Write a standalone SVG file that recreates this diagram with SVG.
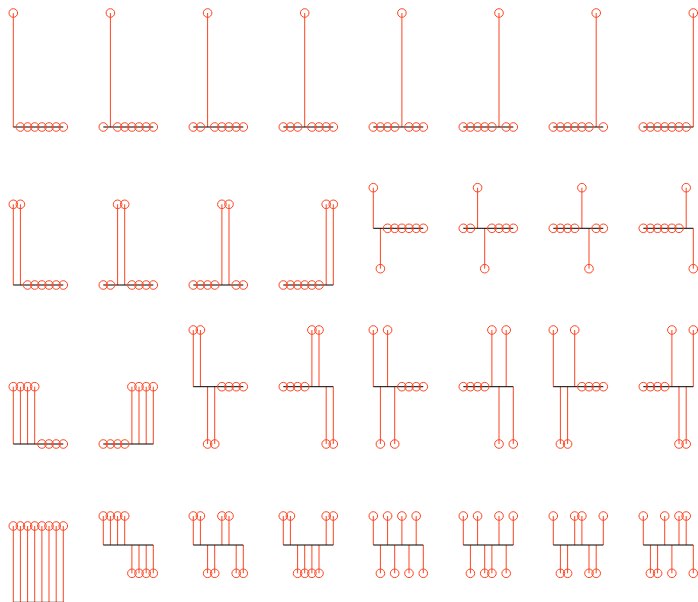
<svg xmlns="http://www.w3.org/2000/svg" xmlns:xlink="http://www.w3.org/1999/xlink" width="698" height="602" viewBox="0 0 698 602">
<style>
.e path{fill:none;stroke:#ff4422;stroke-width:1}
.e path.h{stroke:#000}
use{fill:none;stroke:#ff4422;stroke-width:1}
</style>
<defs><circle id="n" r="4.3"/></defs>
<rect width="698" height="602" fill="#fff"/>
<!-- Row 0 -->
<g id="p00"><g class="e"><path d="M13.3 13V127"/><path class="h" d="M13.3 127H63.3"/></g>
<use href="#n" x="13.3" y="13"/><use href="#n" x="20.4" y="127"/><use href="#n" x="27.6" y="127"/><use href="#n" x="34.7" y="127"/><use href="#n" x="41.9" y="127"/><use href="#n" x="49" y="127"/><use href="#n" x="56.2" y="127"/><use href="#n" x="63.3" y="127"/></g>
<g id="p01"><g class="e"><path d="M110.4 13V127"/><path class="h" d="M103.3 127H153.3"/></g>
<use href="#n" x="103.3" y="127"/><use href="#n" x="110.4" y="13"/><use href="#n" x="117.6" y="127"/><use href="#n" x="124.7" y="127"/><use href="#n" x="131.9" y="127"/><use href="#n" x="139" y="127"/><use href="#n" x="146.2" y="127"/><use href="#n" x="153.3" y="127"/></g>
<g id="p02"><g class="e"><path d="M207.6 13V127"/><path class="h" d="M193.3 127H243.3"/></g>
<use href="#n" x="193.3" y="127"/><use href="#n" x="200.4" y="127"/><use href="#n" x="207.6" y="13"/><use href="#n" x="214.7" y="127"/><use href="#n" x="221.9" y="127"/><use href="#n" x="229" y="127"/><use href="#n" x="236.2" y="127"/><use href="#n" x="243.3" y="127"/></g>
<g id="p03"><g class="e"><path d="M304.7 13V127"/><path class="h" d="M283.3 127H333.3"/></g>
<use href="#n" x="283.3" y="127"/><use href="#n" x="290.4" y="127"/><use href="#n" x="297.6" y="127"/><use href="#n" x="304.7" y="13"/><use href="#n" x="311.9" y="127"/><use href="#n" x="319" y="127"/><use href="#n" x="326.2" y="127"/><use href="#n" x="333.3" y="127"/></g>
<g id="p04"><g class="e"><path d="M401.9 13V127"/><path class="h" d="M373.3 127H423.3"/></g>
<use href="#n" x="373.3" y="127"/><use href="#n" x="380.4" y="127"/><use href="#n" x="387.6" y="127"/><use href="#n" x="394.7" y="127"/><use href="#n" x="401.9" y="13"/><use href="#n" x="409" y="127"/><use href="#n" x="416.2" y="127"/><use href="#n" x="423.3" y="127"/></g>
<g id="p05"><g class="e"><path d="M499 13V127"/><path class="h" d="M463.3 127H513.3"/></g>
<use href="#n" x="463.3" y="127"/><use href="#n" x="470.4" y="127"/><use href="#n" x="477.6" y="127"/><use href="#n" x="484.7" y="127"/><use href="#n" x="491.9" y="127"/><use href="#n" x="499" y="13"/><use href="#n" x="506.2" y="127"/><use href="#n" x="513.3" y="127"/></g>
<g id="p06"><g class="e"><path d="M596.2 13V127"/><path class="h" d="M553.3 127H603.3"/></g>
<use href="#n" x="553.3" y="127"/><use href="#n" x="560.4" y="127"/><use href="#n" x="567.6" y="127"/><use href="#n" x="574.7" y="127"/><use href="#n" x="581.9" y="127"/><use href="#n" x="589" y="127"/><use href="#n" x="596.2" y="13"/><use href="#n" x="603.3" y="127"/></g>
<g id="p07"><g class="e"><path d="M693.3 13V127"/><path class="h" d="M643.3 127H693.3"/></g>
<use href="#n" x="643.3" y="127"/><use href="#n" x="650.4" y="127"/><use href="#n" x="657.6" y="127"/><use href="#n" x="664.7" y="127"/><use href="#n" x="671.9" y="127"/><use href="#n" x="679" y="127"/><use href="#n" x="686.2" y="127"/><use href="#n" x="693.3" y="13"/></g>
<!-- Row 1 -->
<g id="p10"><g class="e"><path d="M13.3 204.3V285M20.4 204.3V285"/><path class="h" d="M13.3 285H63.3"/></g>
<use href="#n" x="13.3" y="204.3"/><use href="#n" x="20.4" y="204.3"/><use href="#n" x="27.6" y="285"/><use href="#n" x="34.7" y="285"/><use href="#n" x="41.9" y="285"/><use href="#n" x="49" y="285"/><use href="#n" x="56.2" y="285"/><use href="#n" x="63.3" y="285"/></g>
<g id="p11"><g class="e"><path d="M117.6 204.3V285M124.7 204.3V285"/><path class="h" d="M103.3 285H153.3"/></g>
<use href="#n" x="103.3" y="285"/><use href="#n" x="110.4" y="285"/><use href="#n" x="117.6" y="204.3"/><use href="#n" x="124.7" y="204.3"/><use href="#n" x="131.9" y="285"/><use href="#n" x="139" y="285"/><use href="#n" x="146.2" y="285"/><use href="#n" x="153.3" y="285"/></g>
<g id="p12"><g class="e"><path d="M221.9 204.3V285M229 204.3V285"/><path class="h" d="M193.3 285H243.3"/></g>
<use href="#n" x="193.3" y="285"/><use href="#n" x="200.4" y="285"/><use href="#n" x="207.6" y="285"/><use href="#n" x="214.7" y="285"/><use href="#n" x="221.9" y="204.3"/><use href="#n" x="229" y="204.3"/><use href="#n" x="236.2" y="285"/><use href="#n" x="243.3" y="285"/></g>
<g id="p13"><g class="e"><path d="M326.2 204.3V285M333.3 204.3V285"/><path class="h" d="M283.3 285H333.3"/></g>
<use href="#n" x="283.3" y="285"/><use href="#n" x="290.4" y="285"/><use href="#n" x="297.6" y="285"/><use href="#n" x="304.7" y="285"/><use href="#n" x="311.9" y="285"/><use href="#n" x="319" y="285"/><use href="#n" x="326.2" y="204.3"/><use href="#n" x="333.3" y="204.3"/></g>
<g id="p14"><g class="e"><path d="M373.3 187.7V228.3M380.4 228.3V268.7"/><path class="h" d="M373.3 228.3H423.3"/></g>
<use href="#n" x="373.3" y="187.7"/><use href="#n" x="380.4" y="268.7"/><use href="#n" x="387.6" y="228.3"/><use href="#n" x="394.7" y="228.3"/><use href="#n" x="401.9" y="228.3"/><use href="#n" x="409" y="228.3"/><use href="#n" x="416.2" y="228.3"/><use href="#n" x="423.3" y="228.3"/></g>
<g id="p15"><g class="e"><path d="M477.6 187.7V228.3M484.7 228.3V268.7"/><path class="h" d="M463.3 228.3H513.3"/></g>
<use href="#n" x="463.3" y="228.3"/><use href="#n" x="470.4" y="228.3"/><use href="#n" x="477.6" y="187.7"/><use href="#n" x="484.7" y="268.7"/><use href="#n" x="491.9" y="228.3"/><use href="#n" x="499" y="228.3"/><use href="#n" x="506.2" y="228.3"/><use href="#n" x="513.3" y="228.3"/></g>
<g id="p16"><g class="e"><path d="M581.9 187.7V228.3M589 228.3V268.7"/><path class="h" d="M553.3 228.3H603.3"/></g>
<use href="#n" x="553.3" y="228.3"/><use href="#n" x="560.4" y="228.3"/><use href="#n" x="567.6" y="228.3"/><use href="#n" x="574.7" y="228.3"/><use href="#n" x="581.9" y="187.7"/><use href="#n" x="589" y="268.7"/><use href="#n" x="596.2" y="228.3"/><use href="#n" x="603.3" y="228.3"/></g>
<g id="p17"><g class="e"><path d="M686.2 187.7V228.3M693.3 228.3V268.7"/><path class="h" d="M643.3 228.3H693.3"/></g>
<use href="#n" x="643.3" y="228.3"/><use href="#n" x="650.4" y="228.3"/><use href="#n" x="657.6" y="228.3"/><use href="#n" x="664.7" y="228.3"/><use href="#n" x="671.9" y="228.3"/><use href="#n" x="679" y="228.3"/><use href="#n" x="686.2" y="187.7"/><use href="#n" x="693.3" y="268.7"/></g>
<!-- Row 2 -->
<g id="p20"><g class="e"><path d="M13.3 386.7V444M20.4 386.7V444M27.6 386.7V444M34.7 386.7V444"/><path class="h" d="M13.3 444H63.3"/></g>
<use href="#n" x="13.3" y="386.7"/><use href="#n" x="20.4" y="386.7"/><use href="#n" x="27.6" y="386.7"/><use href="#n" x="34.7" y="386.7"/><use href="#n" x="41.9" y="444"/><use href="#n" x="49" y="444"/><use href="#n" x="56.2" y="444"/><use href="#n" x="63.3" y="444"/></g>
<g id="p21"><g class="e"><path d="M131.9 386.7V444M139 386.7V444M146.2 386.7V444M153.3 386.7V444"/><path class="h" d="M103.3 444H153.3"/></g>
<use href="#n" x="103.3" y="444"/><use href="#n" x="110.4" y="444"/><use href="#n" x="117.6" y="444"/><use href="#n" x="124.7" y="444"/><use href="#n" x="131.9" y="386.7"/><use href="#n" x="139" y="386.7"/><use href="#n" x="146.2" y="386.7"/><use href="#n" x="153.3" y="386.7"/></g>
<g id="p22"><g class="e"><path d="M193.3 330V386.7M200.4 330V386.7M207.6 386.7V444M214.7 386.7V444"/><path class="h" d="M193.3 386.7H243.3"/></g>
<use href="#n" x="193.3" y="330"/><use href="#n" x="200.4" y="330"/><use href="#n" x="207.6" y="444"/><use href="#n" x="214.7" y="444"/><use href="#n" x="221.9" y="386.7"/><use href="#n" x="229" y="386.7"/><use href="#n" x="236.2" y="386.7"/><use href="#n" x="243.3" y="386.7"/></g>
<g id="p23"><g class="e"><path d="M311.9 330V386.7M319 330V386.7M326.2 386.7V444M333.3 386.7V444"/><path class="h" d="M283.3 386.7H333.3"/></g>
<use href="#n" x="283.3" y="386.7"/><use href="#n" x="290.4" y="386.7"/><use href="#n" x="297.6" y="386.7"/><use href="#n" x="304.7" y="386.7"/><use href="#n" x="311.9" y="330"/><use href="#n" x="319" y="330"/><use href="#n" x="326.2" y="444"/><use href="#n" x="333.3" y="444"/></g>
<g id="p24"><g class="e"><path d="M373.3 330V386.7M387.6 330V386.7M380.4 386.7V444M394.7 386.7V444"/><path class="h" d="M373.3 386.7H423.3"/></g>
<use href="#n" x="373.3" y="330"/><use href="#n" x="380.4" y="444"/><use href="#n" x="387.6" y="330"/><use href="#n" x="394.7" y="444"/><use href="#n" x="401.9" y="386.7"/><use href="#n" x="409" y="386.7"/><use href="#n" x="416.2" y="386.7"/><use href="#n" x="423.3" y="386.7"/></g>
<g id="p25"><g class="e"><path d="M491.9 330V386.7M506.2 330V386.7M499 386.7V444M513.3 386.7V444"/><path class="h" d="M463.3 386.7H513.3"/></g>
<use href="#n" x="463.3" y="386.7"/><use href="#n" x="470.4" y="386.7"/><use href="#n" x="477.6" y="386.7"/><use href="#n" x="484.7" y="386.7"/><use href="#n" x="491.9" y="330"/><use href="#n" x="499" y="444"/><use href="#n" x="506.2" y="330"/><use href="#n" x="513.3" y="444"/></g>
<g id="p26"><g class="e"><path d="M553.3 330V386.7M574.7 330V386.7M560.4 386.7V444M567.6 386.7V444"/><path class="h" d="M553.3 386.7H603.3"/></g>
<use href="#n" x="553.3" y="330"/><use href="#n" x="560.4" y="444"/><use href="#n" x="567.6" y="444"/><use href="#n" x="574.7" y="330"/><use href="#n" x="581.9" y="386.7"/><use href="#n" x="589" y="386.7"/><use href="#n" x="596.2" y="386.7"/><use href="#n" x="603.3" y="386.7"/></g>
<g id="p27"><g class="e"><path d="M671.9 330V386.7M693.3 330V386.7M679 386.7V444M686.2 386.7V444"/><path class="h" d="M643.3 386.7H693.3"/></g>
<use href="#n" x="643.3" y="386.7"/><use href="#n" x="650.4" y="386.7"/><use href="#n" x="657.6" y="386.7"/><use href="#n" x="664.7" y="386.7"/><use href="#n" x="671.9" y="330"/><use href="#n" x="679" y="444"/><use href="#n" x="686.2" y="444"/><use href="#n" x="693.3" y="330"/></g>
<!-- Row 3 -->
<g id="p30"><g class="e"><path d="M13.3 526V602.3M20.4 526V602.3M27.6 526V602.3M34.7 526V602.3M41.9 526V602.3M49 526V602.3M56.2 526V602.3M63.3 526V602.3"/><path class="h" d="M13.3 602.3H63.3"/></g>
<use href="#n" x="13.3" y="526"/><use href="#n" x="20.4" y="526"/><use href="#n" x="27.6" y="526"/><use href="#n" x="34.7" y="526"/><use href="#n" x="41.9" y="526"/><use href="#n" x="49" y="526"/><use href="#n" x="56.2" y="526"/><use href="#n" x="63.3" y="526"/></g>
<g id="p31"><g class="e"><path d="M103.3 516V545M110.4 516V545M117.6 516V545M124.7 516V545M131.9 545V573.3M139 545V573.3M146.2 545V573.3M153.3 545V573.3"/><path class="h" d="M103.3 545H153.3"/></g>
<use href="#n" x="103.3" y="516"/><use href="#n" x="110.4" y="516"/><use href="#n" x="117.6" y="516"/><use href="#n" x="124.7" y="516"/><use href="#n" x="131.9" y="573.3"/><use href="#n" x="139" y="573.3"/><use href="#n" x="146.2" y="573.3"/><use href="#n" x="153.3" y="573.3"/></g>
<g id="p32"><g class="e"><path d="M193.3 516V545M200.4 516V545M221.9 516V545M229 516V545M207.6 545V573.3M214.7 545V573.3M236.2 545V573.3M243.3 545V573.3"/><path class="h" d="M193.3 545H243.3"/></g>
<use href="#n" x="193.3" y="516"/><use href="#n" x="200.4" y="516"/><use href="#n" x="207.6" y="573.3"/><use href="#n" x="214.7" y="573.3"/><use href="#n" x="221.9" y="516"/><use href="#n" x="229" y="516"/><use href="#n" x="236.2" y="573.3"/><use href="#n" x="243.3" y="573.3"/></g>
<g id="p33"><g class="e"><path d="M283.3 516V545M290.4 516V545M326.2 516V545M333.3 516V545M297.6 545V573.3M304.7 545V573.3M311.9 545V573.3M319 545V573.3"/><path class="h" d="M283.3 545H333.3"/></g>
<use href="#n" x="283.3" y="516"/><use href="#n" x="290.4" y="516"/><use href="#n" x="297.6" y="573.3"/><use href="#n" x="304.7" y="573.3"/><use href="#n" x="311.9" y="573.3"/><use href="#n" x="319" y="573.3"/><use href="#n" x="326.2" y="516"/><use href="#n" x="333.3" y="516"/></g>
<g id="p34"><g class="e"><path d="M373.3 516V545M387.6 516V545M401.9 516V545M416.2 516V545M380.4 545V573.3M394.7 545V573.3M409 545V573.3M423.3 545V573.3"/><path class="h" d="M373.3 545H423.3"/></g>
<use href="#n" x="373.3" y="516"/><use href="#n" x="380.4" y="573.3"/><use href="#n" x="387.6" y="516"/><use href="#n" x="394.7" y="573.3"/><use href="#n" x="401.9" y="516"/><use href="#n" x="409" y="573.3"/><use href="#n" x="416.2" y="516"/><use href="#n" x="423.3" y="573.3"/></g>
<g id="p35"><g class="e"><path d="M463.3 516V545M477.6 516V545M499 516V545M513.3 516V545M470.4 545V573.3M484.7 545V573.3M491.9 545V573.3M506.2 545V573.3"/><path class="h" d="M463.3 545H513.3"/></g>
<use href="#n" x="463.3" y="516"/><use href="#n" x="470.4" y="573.3"/><use href="#n" x="477.6" y="516"/><use href="#n" x="484.7" y="573.3"/><use href="#n" x="491.9" y="573.3"/><use href="#n" x="499" y="516"/><use href="#n" x="506.2" y="573.3"/><use href="#n" x="513.3" y="516"/></g>
<g id="p36"><g class="e"><path d="M553.3 516V545M574.7 516V545M581.9 516V545M603.3 516V545M560.4 545V573.3M567.6 545V573.3M589 545V573.3M596.2 545V573.3"/><path class="h" d="M553.3 545H603.3"/></g>
<use href="#n" x="553.3" y="516"/><use href="#n" x="560.4" y="573.3"/><use href="#n" x="567.6" y="573.3"/><use href="#n" x="574.7" y="516"/><use href="#n" x="581.9" y="516"/><use href="#n" x="589" y="573.3"/><use href="#n" x="596.2" y="573.3"/><use href="#n" x="603.3" y="516"/></g>
<g id="p37"><g class="e"><path d="M643.3 516V545M664.7 516V545M679 516V545M686.2 516V545M650.4 545V573.3M657.6 545V573.3M671.9 545V573.3M693.3 545V573.3"/><path class="h" d="M643.3 545H693.3"/></g>
<use href="#n" x="643.3" y="516"/><use href="#n" x="650.4" y="573.3"/><use href="#n" x="657.6" y="573.3"/><use href="#n" x="664.7" y="516"/><use href="#n" x="671.9" y="573.3"/><use href="#n" x="679" y="516"/><use href="#n" x="686.2" y="516"/><use href="#n" x="693.3" y="573.3"/></g>
</svg>
